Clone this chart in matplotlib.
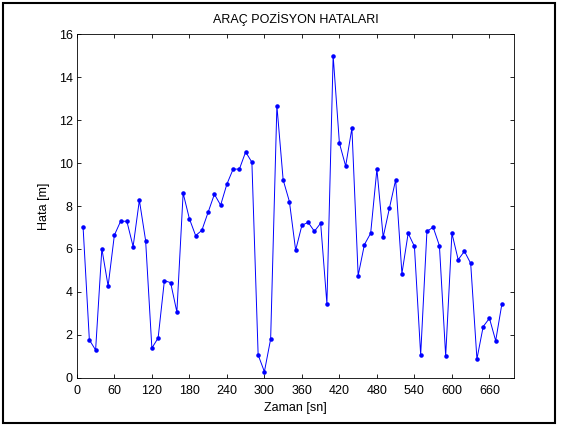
import numpy as np
import matplotlib
matplotlib.use('Agg')
import matplotlib.pyplot as plt
from matplotlib.patches import Rectangle

# time stamps [sn] and position errors [m]
zaman = np.arange(10, 690, 10)
hata = [7.0, 1.76, 1.29, 6.01, 4.27, 6.64, 7.29, 7.29, 6.11, 8.27,
        6.39, 1.38, 1.85, 4.52, 4.43, 3.06, 8.6, 7.41, 6.62, 6.87,
        7.71, 8.55, 8.04, 9.02, 9.72, 9.72, 10.52, 10.04, 1.06, 0.28,
        1.80, 12.67, 9.22, 8.21, 5.94, 7.10, 7.24, 6.82, 7.20, 3.44,
        15.0, 10.93, 9.86, 11.63, 4.76, 6.20, 6.73, 9.72, 6.55, 7.90,
        9.22, 4.85, 6.73, 6.12, 1.06, 6.82, 7.01, 6.15, 1.01, 6.73,
        5.50, 5.89, 5.33, 0.87, 2.38, 2.77, 1.72, 3.45]

xticks = np.arange(0, 661, 60)
yticks = np.arange(0, 17, 2)

plt.rcParams['font.family'] = ['Liberation Sans', 'DejaVu Sans']
plt.rcParams['font.size'] = 9

fig = plt.figure(figsize=(5.61, 4.26), dpi=100)
ax = fig.add_axes([0.137, 0.1134, 0.78, 0.806])

ax.plot(zaman, hata, color='blue', linewidth=0.7, marker='.', markersize=4.5)

ax.set_xlim(0, 700)
ax.set_ylim(0, 16)
ax.set_xticks(xticks)
ax.set_yticks(yticks)
ax.tick_params(direction='in', top=True, right=True, length=3, width=0.6, pad=3)
ax.tick_params(axis='x', pad=5)
for s in ax.spines.values():
    s.set_linewidth(0.6)

ax.set_title('ARAÇ POZİSYON HATALARI', fontsize=9, pad=8)
ax.set_xlabel('Zaman [sn]', labelpad=4)
ax.set_ylabel('Hata [m]', labelpad=6)

# outer frame
fig.patches.append(Rectangle((0.006, 0.007), 0.984, 0.986, transform=fig.transFigure,
                             fill=False, edgecolor='black', linewidth=1.5))

fig.savefig('out.png', dpi=100)
